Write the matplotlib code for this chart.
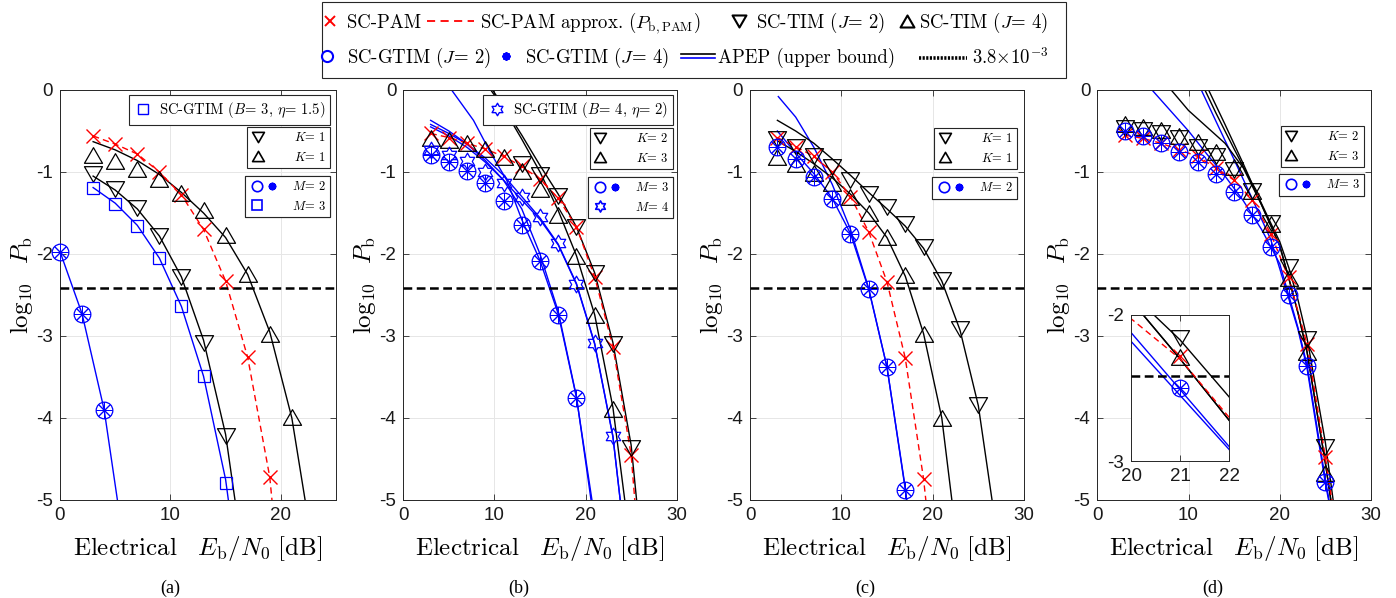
import numpy as np
import matplotlib
matplotlib.use("Agg")
import matplotlib.pyplot as plt
from matplotlib.lines import Line2D
from matplotlib.patches import Rectangle
from matplotlib.path import Path
from matplotlib.legend_handler import HandlerTuple, HandlerBase

plt.rcParams["font.family"] = ["Liberation Sans", "DejaVu Sans"]
plt.rcParams["mathtext.fontset"] = "cm"
plt.rcParams["axes.unicode_minus"] = False

W, H = 1396, 598
target_ber = 3.8e-3

# ---------------- (a) ----------------
a_pam_x = [3, 5, 7, 9, 11, 13, 15, 17, 19]
a_pam = [-0.56, -0.66, -0.78, -1.00, -1.28, -1.70, -2.33, -3.26, -4.72]
a_apx_x = [3, 5, 7, 9, 11, 13, 15, 17, 19, 19.2]
a_apx = [-0.56, -0.66, -0.78, -1.00, -1.28, -1.70, -2.33, -3.26, -4.72, -5.0]
a_tim2_x = [3, 5, 7, 9, 11, 13, 15]
a_tim2 = [-1.03, -1.21, -1.44, -1.78, -2.28, -3.08, -4.22]
a_tim4_x = [3, 5, 7, 9, 11, 13, 15, 17, 19, 21]
a_tim4 = [-0.79, -0.87, -0.96, -1.08, -1.26, -1.46, -1.77, -2.24, -2.97, -3.99]
a_gtim_x = [0, 2, 4]
a_gtim = [-1.97, -2.73, -3.90]
a_sq_x = [3, 5, 7, 9, 11, 13, 15]
a_sq = [-1.20, -1.39, -1.66, -2.05, -2.64, -3.49, -4.79]
a_ub_tim2_x = [3, 5, 7, 9, 11, 13, 15, 15.85]
a_ub_tim2 = [-1.05, -1.22, -1.45, -1.78, -2.28, -3.05, -4.20, -5.0]
a_ub_tim4_x = [3, 5, 7, 9, 11, 13, 15, 17, 19, 21, 22.2]
a_ub_tim4 = [-0.63, -0.73, -0.86, -1.03, -1.25, -1.50, -1.80, -2.25, -2.95, -4.00, -5.0]
a_ub_sq_x = [3, 5, 7, 9, 11, 13, 15, 15.25]
a_ub_sq = [-1.19, -1.38, -1.65, -2.05, -2.64, -3.49, -4.75, -5.0]
a_ub_gtim_x = [0, 2, 4, 5.2]
a_ub_gtim = [-1.97, -2.73, -3.90, -5.0]

# ---------------- (b) ----------------
b_pam_x = [3, 5, 7, 9, 11, 13, 15, 17, 19, 21, 23, 25]
b_pam = [-0.53, -0.58, -0.65, -0.72, -0.81, -0.93, -1.09, -1.32, -1.67, -2.28, -3.13, -4.45]
b_apx_x = [3, 5, 7, 9, 11, 13, 15, 17, 19, 21, 23, 25, 25.4]
b_apx = [-0.53, -0.58, -0.65, -0.72, -0.81, -0.93, -1.09, -1.32, -1.67, -2.28, -3.13, -4.45, -5.0]
b_tim2_x = [13, 15, 17, 19, 21, 23, 25]
b_tim2 = [-0.90, -1.04, -1.29, -1.67, -2.23, -3.10, -4.37]
b_tim4_x = [3, 5, 7, 9, 11, 13, 15, 17, 19, 21, 23]
b_tim4 = [-0.58, -0.61, -0.65, -0.72, -0.82, -0.99, -1.21, -1.53, -2.03, -2.74, -3.89]
b_gtim_x = [3, 5, 7, 9, 11, 13, 15, 17, 19]
b_gtim = [-0.79, -0.88, -0.99, -1.14, -1.35, -1.65, -2.09, -2.74, -3.76]
b_hex_x = [3, 5, 7, 9, 11, 13, 15, 17, 19, 21, 23]
b_hex = [-0.73, -0.79, -0.87, -1.00, -1.14, -1.31, -1.55, -1.87, -2.36, -3.09, -4.22]
b_ub_tim2_x = [9.8, 11, 13, 15, 17, 19, 21, 23, 25, 25.6]
b_ub_tim2 = [0.0, -0.20, -0.55, -0.92, -1.27, -1.67, -2.23, -3.08, -4.33, -5.0]
b_ub_tim4_x = [9.6, 11, 13, 15, 17, 19, 21, 23, 24.3]
b_ub_tim4 = [0.0, -0.22, -0.60, -1.00, -1.47, -2.02, -2.74, -3.87, -5.0]
b_ub_m3a_x = [5.3, 7.7, 9.5, 11.35, 13, 15, 17, 19, 20.7]
b_ub_m3a = [0.0, -0.37, -0.75, -1.10, -1.58, -2.08, -2.73, -3.75, -5.0]
b_ub_m3b_x = [3, 5, 7, 9, 11, 13, 15, 17, 19, 20.6]
b_ub_m3b = [-0.37, -0.50, -0.66, -0.86, -1.10, -1.45, -2.00, -2.70, -3.74, -5.0]
b_ub_m4a_x = [3, 5, 7, 9, 11, 13, 15, 17, 19, 21, 23, 23.8]
b_ub_m4a = [-0.42, -0.53, -0.66, -0.83, -1.04, -1.30, -1.56, -1.88, -2.36, -3.09, -4.22, -5.0]
b_ub_m4b_x = [3, 5, 7, 9, 11, 13, 15, 17, 19, 21, 23, 23.8]
b_ub_m4b = [-0.45, -0.56, -0.70, -0.88, -1.10, -1.34, -1.58, -1.89, -2.37, -3.10, -4.23, -5.0]

# ---------------- (c) ----------------
c_pam_x = [3, 5, 7, 9, 11, 13, 15, 17, 19]
c_pam = [-0.58, -0.69, -0.81, -1.00, -1.30, -1.73, -2.34, -3.27, -4.74]
c_apx_x = [3, 5, 7, 9, 11, 13, 15, 17, 19, 19.25]
c_apx = [-0.58, -0.69, -0.81, -1.00, -1.30, -1.73, -2.34, -3.27, -4.74, -5.0]
c_tim2_x = [3, 5, 7, 9, 11, 13, 15, 17, 19, 21, 23, 25]
c_tim2 = [-0.60, -0.69, -0.81, -0.94, -1.10, -1.27, -1.43, -1.63, -1.91, -2.32, -2.91, -3.84]
c_tim4_x = [3, 5, 7, 9, 11, 13, 15, 17, 19, 21]
c_tim4 = [-0.82, -0.90, -1.01, -1.14, -1.30, -1.50, -1.79, -2.26, -2.97, -4.00]
c_gtim_x = [3, 5, 7, 9, 11, 13, 15, 17]
c_gtim = [-0.70, -0.84, -1.06, -1.33, -1.76, -2.43, -3.38, -4.88]
c_ub_tim2_x = [3, 5, 7, 9, 11, 13, 15, 17, 19, 21, 23, 25, 26.5]
c_ub_tim2 = [-0.37, -0.50, -0.65, -0.84, -1.04, -1.25, -1.45, -1.66, -1.93, -2.33, -2.93, -3.85, -5.0]
c_ub_tim4_x = [3, 5, 7, 9, 11, 13, 15, 17, 19, 21, 22.1]
c_ub_tim4 = [-0.62, -0.75, -0.90, -1.07, -1.27, -1.50, -1.80, -2.27, -2.97, -4.00, -5.0]
c_ub_g1_x = [3.1, 5, 7, 9, 11, 13, 15, 17, 17.15]
c_ub_g1 = [-0.08, -0.33, -0.70, -1.15, -1.70, -2.42, -3.38, -4.85, -5.0]
c_ub_g2_x = [3, 5, 7, 9, 11, 13, 15, 17, 17.15]
c_ub_g2 = [-0.50, -0.77, -1.02, -1.32, -1.75, -2.43, -3.38, -4.87, -5.0]

# ---------------- (d) ----------------
d_pam_x = [3, 5, 7, 9, 11, 13, 15, 17, 19, 21, 23, 25]
d_pam = [-0.55, -0.59, -0.65, -0.73, -0.81, -0.95, -1.10, -1.34, -1.75, -2.28, -3.10, -4.48]
d_apx_x = [3, 5, 7, 9, 11, 13, 15, 17, 19, 21, 23, 25, 25.7]
d_apx = [-0.55, -0.59, -0.65, -0.73, -0.81, -0.95, -1.10, -1.34, -1.75, -2.30, -3.10, -4.48, -5.0]
d_tim2_x = [3, 5, 7, 9, 11, 13, 15, 17, 19, 21, 23, 25]
d_tim2 = [-0.46, -0.49, -0.53, -0.59, -0.69, -0.81, -0.98, -1.23, -1.62, -2.16, -3.04, -4.35]
d_tim4_x = [3, 5, 7, 9, 11, 13, 15, 17, 19, 21, 23, 25]
d_tim4 = [-0.41, -0.45, -0.49, -0.56, -0.64, -0.76, -0.94, -1.23, -1.64, -2.29, -3.20, -4.67]
d_gtim_x = [3, 5, 7, 9, 11, 13, 15, 17, 19, 21, 23, 25]
d_gtim = [-0.50, -0.56, -0.65, -0.76, -0.88, -1.02, -1.24, -1.52, -1.92, -2.50, -3.37, -4.78]
d_ub_ka_x = [8.1, 10, 12, 14, 16, 18, 20, 21, 22, 23, 25, 25.6]
d_ub_ka = [0.0, -0.25, -0.45, -0.65, -0.95, -1.40, -1.90, -2.30, -2.72, -3.20, -4.55, -5.0]
d_ub_kb_x = [11.8, 13, 15, 17, 19, 20, 21, 22, 23, 25, 25.85]
d_ub_kb = [0.0, -0.28, -0.72, -1.15, -1.62, -1.85, -2.17, -2.56, -3.03, -4.30, -5.0]
d_ub_kc_x = [12.2, 14, 16, 18, 20, 21, 22, 23, 25, 25.6]
d_ub_kc = [0.0, -0.42, -0.90, -1.40, -1.90, -2.30, -2.72, -3.20, -4.55, -5.0]
d_ub_ga_x = [6, 8, 10, 12, 14, 16, 18, 20, 21, 22, 23, 25, 25.4]
d_ub_ga = [0.0, -0.25, -0.50, -0.78, -1.05, -1.35, -1.70, -2.12, -2.51, -2.90, -3.36, -4.75, -5.0]
d_ub_gb_x = [11.4, 13, 15, 17, 19, 20, 21, 22, 23, 25, 25.35]
d_ub_gb = [0.0, -0.38, -0.85, -1.33, -1.82, -2.18, -2.55, -2.92, -3.40, -4.80, -5.0]


def tri(down):
    s = -1 if down else 1
    return Path([(-1, -0.866 * s), (1, -0.866 * s), (0, 0.866 * s), (-1, -0.866 * s)], closed=True)


ang = np.deg2rad(np.arange(12) * 30 + 90)
rad = np.where(np.arange(12) % 2 == 0, 1.0, 1 / np.sqrt(3))
hv = np.column_stack([rad * np.cos(ang), rad * np.sin(ang)])
hexagram = Path(np.vstack([hv, hv[:1]]), closed=True)

RED, BLUE = (1, 0, 0), (0, 0, 1)
styles = {
    "pam": dict(marker="x", color=RED, ms=9.5, mew=1.0),
    "tim2": dict(marker=tri(True), color="k", mfc="none", ms=13, mew=0.9),
    "tim4": dict(marker=tri(False), color="k", mfc="none", ms=13, mew=0.9),
    "gtim2": dict(marker="o", color=BLUE, mfc="none", ms=12, mew=0.9),
    "gtim4": dict(marker=(8, 2, 0), color=BLUE, ms=12, mew=0.7),
    "sq": dict(marker="s", color=BLUE, mfc="none", ms=9, mew=0.9),
    "hex": dict(marker=hexagram, color=BLUE, mfc="none", ms=12, mew=0.9),
}
DASH = (0, (4.5, 3))

fig = plt.figure(figsize=(W / 100, H / 100), dpi=100)


def px_axes(left, top, right, bottom):
    return fig.add_axes([left / W, 1 - bottom / H, (right - left) / W, (bottom - top) / H])


def frame(ax, xmax, xt, yt, big=True):
    ax.set_xlim(xt[0], xmax)
    ax.set_ylim(yt[0], yt[-1])
    ax.set_xticks(xt)
    ax.set_xticklabels([str(v) for v in xt])
    ax.set_yticks(yt)
    ax.set_yticklabels([str(v) for v in yt])
    ax.tick_params(direction="in", top=True, right=True, length=4, width=0.6,
                   colors="0.15", labelcolor="0.1", labelsize=13.5, pad=5)
    ax.grid(True, axis="both" if big else "x", color="0.9", lw=0.7)
    ax.set_axisbelow(True)
    for s in ax.spines.values():
        s.set_color("0.15")
        s.set_linewidth(0.7)
    ax.axhline(np.log10(target_ber), color="k", lw=1.8, ls=(0, (3.5, 1.8)), zorder=3)
    if big:
        wpx = ax.get_position().width * W
        ax.set_xlabel(r"$\mathrm{Electrical}\quad E_{\mathrm{b}}/N_0\ [\mathrm{dB}]$", fontsize=18, labelpad=7.5)
        ax.set_ylabel(r"$\log_{10}\ \ P_{\mathrm{b}}$", fontsize=18)
        ax.yaxis.set_label_coords(-25 / wpx, 0.525)


def panel(ax, curves, marks, clip):
    for x, y, color, ls in curves:
        ax.plot(x, y, color=color, ls=ls, lw=1.0, zorder=2)
    for x, y, kind in marks:
        ax.plot(x, y, ls="none", clip_on=clip, zorder=4, **styles[kind])


ax_a = px_axes(60, 90, 336, 500)
ax_b = px_axes(403.3, 90, 676.7, 500)
ax_c = px_axes(750, 90, 1024, 500)
ax_d = px_axes(1097.3, 90, 1371, 500)
yt = [-5, -4, -3, -2, -1, 0]
frame(ax_a, 25, [0, 10, 20], yt)
for ax in (ax_b, ax_c, ax_d):
    frame(ax, 30, [0, 10, 20, 30], yt)

# SC-GTIM J=2 (circles) and J=4 (asterisks) coincide in every panel
panel(ax_a,
      [(a_ub_gtim_x, a_ub_gtim, BLUE, "-"), (a_ub_sq_x, a_ub_sq, BLUE, "-"),
       (a_ub_tim2_x, a_ub_tim2, "k", "-"), (a_ub_tim4_x, a_ub_tim4, "k", "-"),
       (a_apx_x, a_apx, RED, DASH)],
      [(a_pam_x, a_pam, "pam"), (a_tim2_x, a_tim2, "tim2"), (a_tim4_x, a_tim4, "tim4"),
       (a_gtim_x, a_gtim, "gtim2"), (a_gtim_x, a_gtim, "gtim4"), (a_sq_x, a_sq, "sq")], False)

panel(ax_b,
      [(b_ub_m3a_x, b_ub_m3a, BLUE, "-"), (b_ub_m3b_x, b_ub_m3b, BLUE, "-"),
       (b_ub_m4a_x, b_ub_m4a, BLUE, "-"), (b_ub_m4b_x, b_ub_m4b, BLUE, "-"),
       (b_ub_tim2_x, b_ub_tim2, "k", "-"), (b_ub_tim4_x, b_ub_tim4, "k", "-"),
       (b_apx_x, b_apx, RED, DASH)],
      [(b_pam_x, b_pam, "pam"), (b_tim2_x, b_tim2, "tim2"), (b_tim4_x, b_tim4, "tim4"),
       (b_gtim_x, b_gtim, "gtim2"), (b_gtim_x, b_gtim, "gtim4"), (b_hex_x, b_hex, "hex")], False)

panel(ax_c,
      [(c_ub_g1_x, c_ub_g1, BLUE, "-"), (c_ub_g2_x, c_ub_g2, BLUE, "-"),
       (c_ub_tim2_x, c_ub_tim2, "k", "-"), (c_ub_tim4_x, c_ub_tim4, "k", "-"),
       (c_apx_x, c_apx, RED, DASH)],
      [(c_pam_x, c_pam, "pam"), (c_tim2_x, c_tim2, "tim2"), (c_tim4_x, c_tim4, "tim4"),
       (c_gtim_x, c_gtim, "gtim2"), (c_gtim_x, c_gtim, "gtim4")], False)

d_curves = [(d_ub_ga_x, d_ub_ga, BLUE, "-"), (d_ub_gb_x, d_ub_gb, BLUE, "-"),
            (d_ub_ka_x, d_ub_ka, "k", "-"), (d_ub_kb_x, d_ub_kb, "k", "-"),
            (d_ub_kc_x, d_ub_kc, "k", "-"), (d_apx_x, d_apx, RED, DASH)]
d_marks = [(d_pam_x, d_pam, "pam"), (d_tim2_x, d_tim2, "tim2"), (d_tim4_x, d_tim4, "tim4"),
           (d_gtim_x, d_gtim, "gtim2"), (d_gtim_x, d_gtim, "gtim4")]
panel(ax_d, d_curves, d_marks, False)

ax_in = px_axes(1131, 315, 1229, 461)
frame(ax_in, 22, [20, 21, 22], [-3, -2], big=False)
panel(ax_in, d_curves, d_marks, True)

# ---------------- legends ----------------
TXT = "cmr10"


def mk(kind, **kw):
    st = dict(styles[kind])
    st.update(kw)
    return Line2D([], [], ls="none", **st)


blank = Line2D([], [], ls="none", marker="none")


def boxleg(ax, handles, labels, right, top, fs, hl, htp):
    leg = ax.legend(handles, labels, loc="upper right",
                    bbox_to_anchor=(right / W, 1 - top / H), bbox_transform=fig.transFigure,
                    borderaxespad=0, fancybox=False, framealpha=1, edgecolor="0.15",
                    prop={"family": TXT, "size": fs}, handlelength=hl, handletextpad=htp,
                    borderpad=0.35, labelspacing=0.5,
                    handler_map={tuple: HandlerTuple(ndivide=None, pad=0)})
    leg.get_frame().set_linewidth(0.8)
    leg.set_zorder(6)
    ax.add_artist(leg)


sm = dict(mew=1.2)
k_tri2 = mk("tim2", ms=8.5, **sm)
k_tri4 = mk("tim4", ms=8.5, **sm)
m_circ = mk("gtim2", ms=7.5, **sm)
m_ast = mk("gtim4", ms=5.5, mew=1.4)
m_sq = mk("sq", ms=6.5, **sm)
m_hex = mk("hex", ms=8, **sm)

boxleg(ax_a, [mk("sq", ms=7.5, mew=1.0)], [r"SC-GTIM ($B$= 3, $\eta$= 1.5)"], 330, 95, 10.5, 1.2, 0.5)
boxleg(ax_a, [k_tri2, k_tri4], [r"$K$= 1", r"$K$= 1"], 330, 127, 9, 1.0, 2.4)
boxleg(ax_a, [(m_circ, m_ast), (m_sq, blank)], [r"$M$= 2", r"$M$= 3"], 330, 176, 9, 2.4, 1.0)

boxleg(ax_b, [mk("hex", ms=9, mew=1.0)], [r"SC-GTIM ($B$= 4, $\eta$= 2)"], 673, 95, 10.5, 1.2, 0.5)
boxleg(ax_b, [k_tri2, k_tri4], [r"$K$= 2", r"$K$= 3"], 673, 128, 9, 1.0, 2.4)
boxleg(ax_b, [(m_circ, m_ast), (m_hex, blank)], [r"$M$= 3", r"$M$= 4"], 673, 177, 9, 2.4, 1.0)

boxleg(ax_c, [k_tri2, k_tri4], [r"$K$= 1", r"$K$= 1"], 1017, 128, 9, 1.0, 2.4)
boxleg(ax_c, [(m_circ, m_ast)], [r"$M$= 2"], 1017, 177, 9, 2.4, 1.0)

boxleg(ax_d, [k_tri2, k_tri4], [r"$K$= 2", r"$K$= 3"], 1364, 126, 9, 1.0, 2.4)
boxleg(ax_d, [(m_circ, m_ast)], [r"$M$= 3"], 1364, 174, 9, 2.4, 1.0)


class ApepHandle:
    pass


class DoubleLine(HandlerBase):
    def create_artists(self, legend, orig_handle, xd, yd, w, h, fs, trans):
        y = h / 2 - yd
        top = Line2D([-xd, w - xd], [y + 1.4, y + 1.4], color="k", lw=1.2, transform=trans)
        bot = Line2D([-xd, w - xd], [y - 1.4, y - 1.4], color=BLUE, lw=1.2, transform=trans)
        return [top, bot]


# top legend: one entry at a time so each token can keep its own width
EM = 13.5 * 100 / 72
top_entries = [
    (mk("pam", ms=7, mew=1.4), "SC-PAM", 313, 34, 0, 23),
    (Line2D([], [], color=RED, ls=DASH, lw=1.3), r"SC-PAM approx. ($P_{\mathrm{b,PAM}}$)", 427, 47, 6, 23),
    (mk("tim2", ms=10, mew=1.5), r"SC-TIM ($J$= 2)", 722, 34, 0, 23),
    (mk("tim4", ms=10, mew=1.5), r"SC-TIM ($J$= 4)", 895, 24, 0, 23),
    (mk("gtim2", ms=8, mew=1.5), r"SC-GTIM ($J$= 2)", 310, 34, 3, 58),
    (mk("gtim4", ms=6, mew=1.4), r"SC-GTIM ($J$= 4)", 489, 34, 2, 58),
    (ApepHandle(), "APEP (upper bound)", 681, 34, 3, 58),
    (Line2D([], [], color="k", ls=(0, (0.6, 0.4)), lw=2.6), r"3.8$\times$10$^{-3}$", 919, 48, 5, 58),
]
for hnd, lab, x0, hl, pad, yc in top_entries:
    fig.legend([hnd], [lab], loc="center left", bbox_to_anchor=(x0 / W, 1 - yc / H),
               frameon=False, prop={"family": TXT, "size": 13.5},
               handlelength=hl / EM, handletextpad=pad / EM,
               borderpad=0, borderaxespad=0, handler_map={ApepHandle: DoubleLine()})

fig.add_artist(Rectangle((322 / W, 1 - 78 / H), (1066 - 322) / W, 76 / H,
                         transform=fig.transFigure, fill=False, ec="0.15", lw=0.8))

for lab, xc in (("(a)", 170), ("(b)", 519), ("(c)", 865), ("(d)", 1213)):
    fig.text(xc / W, 1 - 588 / H, lab, ha="center", va="center",
             family="Liberation Serif", size=13)

fig.savefig("out.png", dpi=100)
